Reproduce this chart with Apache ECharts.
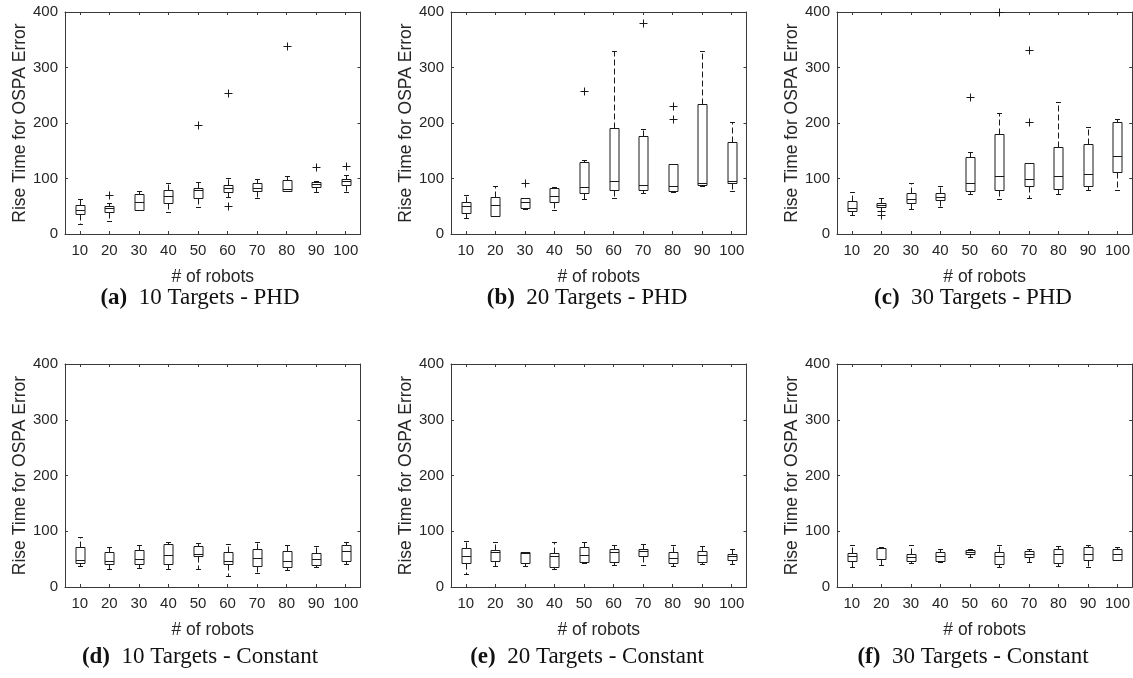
<!DOCTYPE html>
<html>
<head>
<meta charset="utf-8">
<script src="https://cdn.jsdelivr.net/npm/echarts@6/dist/echarts.min.js"></script>
<style>
  html, body { margin: 0; padding: 0; background: #fff; }
  #chart { width: 1133px; height: 678px; }
</style>
</head>
<body>
<div id="chart"></div>
<script>
// Robot counts on the x axis
const robots = ['10', '20', '30', '40', '50', '60', '70', '80', '90', '100'];
// Y axis range and step
const yMax = 400;
const yStep = 100;

// Box statistics per robot count: [lower whisker, Q1, median, Q3, upper whisker]
const phd10 = [
  [18, 36, 44, 53, 63], [23, 39, 46, 50, 55], [43, 44, 58, 72, 78], [39, 56, 68, 80, 92],
  [49, 64, 80, 83, 94], [67, 76, 83, 89, 101], [65, 78, 82, 92, 100], [77, 78, 81, 98, 104],
  [76, 85, 90, 94, 95], [76, 89, 95, 100, 106]
];
const phd10Outliers = [['20', 71], ['50', 196], ['60', 50], ['60', 254], ['80', 338], ['90', 120], ['100', 122]];

const phd20 = [
  [29, 38, 50, 57, 71], [32, 33, 53, 67, 86], [45, 47, 57, 64, 64], [43, 57, 69, 83, 85],
  [63, 73, 85, 130, 133], [65, 79, 95, 191, 330], [74, 80, 88, 177, 189], [76, 77, 86, 127, 127],
  [87, 89, 91, 234, 329], [77, 92, 95, 165, 201]
];
const phd20Outliers = [['30', 91], ['50', 257], ['70', 380], ['80', 208], ['80', 230]];

const phd30 = [
  [35, 41, 46, 59, 76], [49, 49, 53, 56, 64], [45, 55, 63, 74, 91], [49, 61, 67, 74, 86],
  [72, 77, 92, 139, 148], [63, 79, 105, 180, 218], [64, 86, 99, 128, 128], [72, 81, 105, 156, 238],
  [79, 86, 109, 163, 192], [79, 112, 140, 201, 207]
];
const phd30Outliers = [['20', 41], ['20', 34], ['50', 246], ['60', 400], ['70', 202], ['70', 331]];

const const10 = [
  [38, 43, 48, 71, 89], [32, 41, 47, 62, 71], [34, 41, 50, 67, 76], [32, 41, 58, 77, 80],
  [32, 55, 59, 73, 79], [20, 41, 47, 62, 77], [25, 37, 52, 68, 80], [30, 35, 46, 65, 75],
  [35, 40, 51, 61, 74], [41, 47, 65, 76, 80]
];
const const20 = [
  [23, 43, 56, 70, 83], [37, 46, 62, 66, 80], [37, 43, 61, 62, 63], [32, 36, 56, 61, 80],
  [43, 44, 58, 71, 81], [40, 45, 62, 68, 75], [40, 56, 64, 69, 78], [37, 43, 52, 62, 75],
  [42, 45, 58, 65, 74], [41, 49, 55, 59, 69]
];
const const30 = [
  [35, 47, 55, 61, 76], [40, 50, 51, 70, 71], [43, 47, 54, 59, 75], [44, 47, 56, 63, 69],
  [53, 59, 63, 67, 69], [35, 42, 55, 62, 75], [45, 53, 59, 65, 69], [37, 43, 59, 68, 73],
  [35, 48, 59, 71, 76], [49, 49, 59, 68, 71]
];

// Panel texts
const yName = 'Rise Time for OSPA Error';
const xName = '# of robots';
const panelTags = ['(a)', '(b)', '(c)', '(d)', '(e)', '(f)'];
const panelTitles = ['10 Targets - PHD', '20 Targets - PHD', '30 Targets - PHD',
                     '10 Targets - Constant', '20 Targets - Constant', '30 Targets - Constant'];

const panels = [
  { stats: phd10, outliers: phd10Outliers },
  { stats: phd20, outliers: phd20Outliers },
  { stats: phd30, outliers: phd30Outliers },
  { stats: const10, outliers: [] },
  { stats: const20, outliers: [] },
  { stats: const30, outliers: [] }
];

// Layout of the 2x3 grid of plots
const colLeft = [65, 451, 837];
const plotW = 295.5;
const rowTop = [12, 364];
const plotH = [222, 223];
const captionX = [200, 587, 973];
const captionY = [298, 657];

const INK = '#1a1a1a';
const AXIS = '#3a3a3a';
const TEXT = '#262626';
const SANS = '"Liberation Sans", Arial, Helvetica, sans-serif';
const SERIF = '"Liberation Serif", "Times New Roman", serif';

const crisp = v => Math.round(v) + 0.5;

function renderBox(params, api) {
  const i = api.value(0);
  const x = crisp(api.coord([i, 0])[0]);
  const y = v => crisp(api.coord([i, v])[1]);
  const yLo = y(api.value(1)), yQ1 = y(api.value(2)), yMed = y(api.value(3));
  const yQ3 = y(api.value(4)), yHi = y(api.value(5));
  const bw = Math.round(api.size([1, 0])[0] * 0.32);
  const cw = Math.round(bw * 0.5);
  const solid = { stroke: INK, lineWidth: 1, fill: null };
  const dashed = { stroke: INK, lineWidth: 1, lineDash: [6, 3], fill: null };
  const hLine = (yy, half) => ({ type: 'line', shape: { x1: x - half, y1: yy, x2: x + half, y2: yy }, style: solid });
  return {
    type: 'group',
    children: [
      { type: 'line', shape: { x1: x, y1: yQ3, x2: x, y2: yHi }, style: dashed },
      { type: 'line', shape: { x1: x, y1: yQ1, x2: x, y2: yLo }, style: dashed },
      hLine(yHi, cw / 2),
      hLine(yLo, cw / 2),
      { type: 'rect', shape: { x: x - bw / 2, y: yQ3, width: bw, height: yQ1 - yQ3 },
        style: { stroke: INK, lineWidth: 1, fill: 'none' } },
      hLine(yMed, bw / 2)
    ]
  };
}

function renderPlus(params, api) {
  const p = api.coord([api.value(0), api.value(1)]);
  const x = crisp(p[0]), y = crisp(p[1]);
  const r = 4;
  const st = { stroke: INK, lineWidth: 1, fill: null };
  return {
    type: 'group',
    children: [
      { type: 'line', shape: { x1: x - r, y1: y, x2: x + r, y2: y }, style: st },
      { type: 'line', shape: { x1: x, y1: y - r, x2: x, y2: y + r }, style: st }
    ]
  };
}

const grids = [], xAxes = [], yAxes = [], series = [], graphics = [];

panels.forEach((p, k) => {
  const row = Math.floor(k / 3), col = k % 3;
  grids.push({ left: colLeft[col], top: rowTop[row], width: plotW, height: plotH[row] });

  const lineStyle = { color: AXIS, width: 1 };
  const tick = { show: true, inside: true, length: 3, alignWithLabel: true, lineStyle: lineStyle };

  xAxes.push({
    gridIndex: k, type: 'category', data: robots, position: 'bottom', boundaryGap: true,
    axisLine: { show: true, onZero: false, lineStyle: lineStyle },
    axisTick: tick,
    axisLabel: { color: TEXT, fontSize: 15, fontFamily: SANS, margin: 9, interval: 0 },
    splitLine: { show: false },
    name: xName, nameLocation: 'middle', nameGap: 34,
    nameTextStyle: { color: TEXT, fontSize: 17.5, fontFamily: SANS }
  });
  xAxes.push({
    gridIndex: k, type: 'category', data: robots, position: 'top', boundaryGap: true,
    axisLine: { show: true, onZero: false, lineStyle: lineStyle },
    axisTick: tick, axisLabel: { show: false }, splitLine: { show: false }
  });
  yAxes.push({
    gridIndex: k, type: 'value', min: 0, max: yMax, interval: yStep, position: 'left',
    axisLine: { show: true, onZero: false, lineStyle: lineStyle },
    axisTick: { show: true, inside: true, length: 3, lineStyle: lineStyle },
    axisLabel: { color: TEXT, fontSize: 15, fontFamily: SANS, margin: 7 },
    splitLine: { show: false },
    name: yName, nameLocation: 'middle', nameGap: 36,
    nameTextStyle: { color: TEXT, fontSize: 17.5, fontFamily: SANS }
  });
  yAxes.push({
    gridIndex: k, type: 'value', min: 0, max: yMax, interval: yStep, position: 'right',
    axisLine: { show: true, onZero: false, lineStyle: lineStyle },
    axisTick: { show: true, inside: true, length: 3, lineStyle: lineStyle },
    axisLabel: { show: false }, splitLine: { show: false }
  });

  series.push({
    type: 'custom', xAxisIndex: 2 * k, yAxisIndex: 2 * k,
    renderItem: renderBox,
    encode: { x: 0, y: [1, 2, 3, 4, 5] },
    data: p.stats.map((s, i) => [i].concat(s)),
    silent: true, animation: false
  });
  if (p.outliers.length) {
    series.push({
      type: 'custom', xAxisIndex: 2 * k, yAxisIndex: 2 * k,
      renderItem: renderPlus,
      encode: { x: 0, y: 1 },
      data: p.outliers.map(o => [robots.indexOf(o[0]), o[1]]),
      silent: true, animation: false
    });
  }

  graphics.push({
    type: 'text', x: captionX[col], y: captionY[row],
    style: {
      text: '{b|' + panelTags[k] + '}  ' + panelTitles[k],
      font: '23px ' + SERIF, fill: '#111',
      align: 'center', verticalAlign: 'middle',
      rich: { b: { fontWeight: 'bold', fontSize: 23, fontFamily: SERIF, fill: '#111' } }
    }
  });
});

const chart = echarts.init(document.getElementById('chart'), null, { renderer: 'canvas' });
chart.setOption({
  backgroundColor: '#fff',
  animation: false,
  grid: grids,
  xAxis: xAxes,
  yAxis: yAxes,
  series: series,
  graphic: graphics
});
</script>
</body>
</html>
